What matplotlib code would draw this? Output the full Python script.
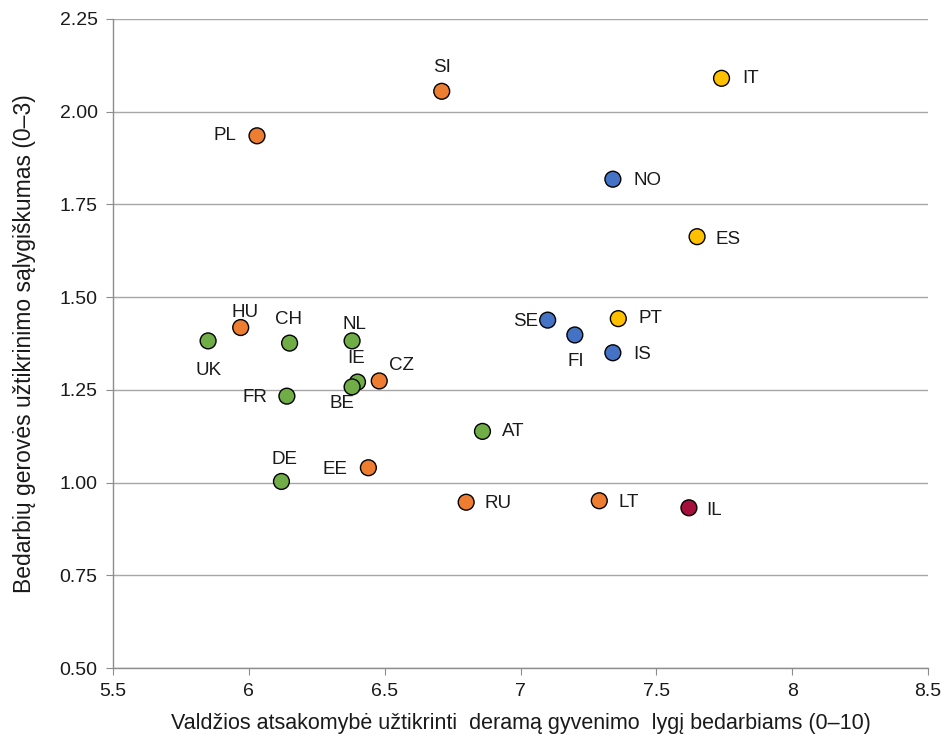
import matplotlib.pyplot as plt

plt.rcParams['font.family'] = ['Liberation Sans', 'DejaVu Sans']

# country codes, x = government responsibility, y = conditionality
countries = ['SI', 'IT', 'PL', 'NO', 'ES', 'SE', 'PT', 'FI', 'IS', 'UK', 'HU', 'CH',
             'NL', 'IE', 'BE', 'CZ', 'FR', 'AT', 'EE', 'DE', 'RU', 'LT', 'IL']
resp = [6.71, 7.74, 6.03, 7.34, 7.65, 7.10, 7.36, 7.20, 7.34, 5.85, 5.97, 6.15,
        6.38, 6.40, 6.38, 6.48, 6.14, 6.86, 6.44, 6.12, 6.80, 7.29, 7.62]
cond = [2.055, 2.090, 1.935, 1.818, 1.663, 1.438, 1.442, 1.398, 1.350, 1.382, 1.418, 1.376,
        1.382, 1.271, 1.258, 1.274, 1.233, 1.138, 1.040, 1.003, 0.947, 0.951, 0.932]
groups = ['east', 'south', 'east', 'nordic', 'south', 'nordic', 'south', 'nordic', 'nordic',
          'west', 'east', 'west', 'west', 'west', 'west', 'east', 'west', 'west', 'east',
          'west', 'east', 'east', 'other']

group_colors = {'west': '#70ad47', 'east': '#ed7d31', 'nordic': '#4472c4',
                'south': '#ffc000', 'other': '#a50f3c'}

# label offsets in points (dx, dy)
offsets = {'SI': (0, 17), 'IT': (21, 0), 'PL': (-23, 0), 'NO': (25, -1), 'ES': (22, -2),
           'SE': (-16, -1), 'PT': (23, 0), 'FI': (1, -19), 'IS': (21, -1), 'UK': (0, -21),
           'HU': (3, 11), 'CH': (-1, 17), 'NL': (2, 12), 'IE': (-1, 17), 'BE': (-7, -12),
           'CZ': (16, 11), 'FR': (-23, -1), 'AT': (22, 0), 'EE': (-24, -1), 'DE': (2, 16),
           'RU': (23, -1), 'LT': (21, -1), 'IL': (18, -2)}

fig = plt.figure(figsize=(9.45, 7.41), dpi=100)
ax = fig.add_axes([0.1196, 0.0985, 0.8624, 0.8759])

ax.scatter(resp, cond, s=130, c=[group_colors[g] for g in groups],
           edgecolors='black', linewidths=1.0, zorder=3)

for name, x, y in zip(countries, resp, cond):
    dx, dy = offsets[name]
    ax.annotate(name, (x, y), xytext=(dx, dy), textcoords='offset points',
                ha='center', va='center', fontsize=13.5, color='#1a1a1a')

ax.set_xlim(5.5, 8.5)
ax.set_ylim(0.5, 2.25)
ax.set_xticks([5.5, 6, 6.5, 7, 7.5, 8, 8.5])
ax.set_xticklabels(['5.5', '6', '6.5', '7', '7.5', '8', '8.5'])
ax.set_yticks([0.5, 0.75, 1.0, 1.25, 1.5, 1.75, 2.0, 2.25])
ax.set_yticklabels(['0.50', '0.75', '1.00', '1.25', '1.50', '1.75', '2.00', '2.25'])

ax.grid(axis='y', color='#a6a6a6', linewidth=1.0)
ax.set_axisbelow(True)
for side in ['top', 'right']:
    ax.spines[side].set_visible(False)
for side in ['left', 'bottom']:
    ax.spines[side].set_color('#8c8c8c')
    ax.spines[side].set_linewidth(1.0)
ax.tick_params(direction='out', length=5, color='#8c8c8c', labelsize=14,
               labelcolor='#1a1a1a', pad=6)

ax.set_xlabel('Valdžios atsakomybė užtikrinti  deramą gyvenimo  lygį bedarbiams (0–10)',
              fontsize=15.5, color='#1a1a1a', labelpad=9)
ax.set_ylabel('Bedarbių gerovės užtikrinimo sąlygiškumas (0–3)',
              fontsize=16.5, color='#1a1a1a', labelpad=17)

fig.savefig('out.png', dpi=100)
